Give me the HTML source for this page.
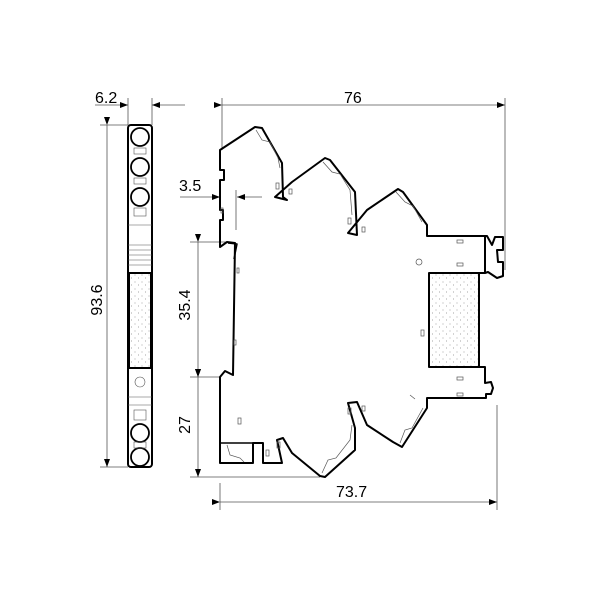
<!DOCTYPE html>
<html><head><style>body{margin:0;background:#fff}svg{display:block}text{font-family:"Liberation Sans",sans-serif;font-size:16px;fill:#000}</style></head>
<body>
<svg width="600" height="600" viewBox="0 0 600 600">
<defs>
<pattern id="dots" width="7" height="7" patternUnits="userSpaceOnUse"><circle cx="2" cy="2" r="0.5" fill="#888"/><circle cx="5.5" cy="5" r="0.5" fill="#888"/></pattern>
<marker id="a" markerWidth="8" markerHeight="6" refX="8" refY="3" orient="auto" markerUnits="userSpaceOnUse"><path d="M0,0L8,3L0,6z" fill="#000"/></marker>
</defs>
<g stroke="#555" stroke-width="0.8" fill="none">
<line x1="222" y1="105" x2="505" y2="105" marker-start="url(#a)" marker-end="url(#a)"/>
<line x1="222" y1="98" x2="222" y2="150"/><line x1="505" y1="98" x2="505" y2="270"/>
<line x1="95" y1="105" x2="128" y2="105" marker-end="url(#a)"/>
<line x1="185" y1="105" x2="152" y2="105" marker-end="url(#a)"/>
<line x1="128" y1="98" x2="128" y2="125"/><line x1="152" y1="98" x2="152" y2="125"/>
<line x1="107" y1="125" x2="107" y2="467" marker-start="url(#a)" marker-end="url(#a)"/>
<line x1="100" y1="125" x2="128" y2="125"/><line x1="100" y1="467" x2="128" y2="467"/>
<line x1="180" y1="197" x2="220" y2="197" marker-end="url(#a)"/>
<line x1="262" y1="197" x2="237" y2="197" marker-end="url(#a)"/>
<line x1="236" y1="190" x2="236" y2="230"/>
<line x1="198" y1="242" x2="198" y2="377" marker-start="url(#a)" marker-end="url(#a)"/>
<line x1="198" y1="377" x2="198" y2="477" marker-start="url(#a)" marker-end="url(#a)"/>
<line x1="190" y1="242" x2="227" y2="242"/><line x1="190" y1="377" x2="220" y2="377"/><line x1="190" y1="477" x2="320" y2="477"/>
<line x1="220" y1="502" x2="497" y2="502" marker-start="url(#a)" marker-end="url(#a)"/>
<line x1="220" y1="483" x2="220" y2="510"/><line x1="497" y1="405" x2="497" y2="510"/>
</g>
<text x="95" y="103">6.2</text>
<text x="344" y="103">76</text>
<text x="179" y="191">3.5</text>
<text x="336" y="497">73.7</text>
<text transform="translate(102,300) rotate(-90)" text-anchor="middle">93.6</text>
<text transform="translate(190,305) rotate(-90)" text-anchor="middle">35.4</text>
<text transform="translate(190,425) rotate(-90)" text-anchor="middle">27</text>

<g stroke="#000" fill="none">
<rect x="128" y="125" width="24" height="342" rx="3" stroke-width="2"/>
<g stroke-width="1.8"><circle cx="140" cy="137" r="9"/><circle cx="140" cy="167" r="9"/><circle cx="140" cy="197" r="9"/><circle cx="140" cy="433" r="9"/><circle cx="140" cy="457" r="9"/></g>
<g stroke-width="0.6" stroke="#555">
<rect x="134" y="148" width="12" height="6"/><rect x="134" y="178" width="12" height="6"/><rect x="134" y="208" width="12" height="8"/>
<line x1="128" y1="225" x2="152" y2="225"/><line x1="128" y1="245" x2="152" y2="245"/><line x1="128" y1="250" x2="152" y2="250"/><line x1="128" y1="255" x2="152" y2="255"/><line x1="128" y1="260" x2="152" y2="260"/><line x1="128" y1="265" x2="152" y2="265"/>
<circle cx="140" cy="382" r="5"/><line x1="128" y1="397" x2="152" y2="397"/><line x1="128" y1="405" x2="152" y2="405"/>
<rect x="134" y="410" width="12" height="10"/><rect x="134" y="442" width="12" height="6"/>
</g>
<rect x="129" y="273" width="22" height="95" fill="url(#dots)" stroke-width="2"/>
</g>

<g stroke="#000" stroke-width="2" fill="none" stroke-linejoin="round">
<path d="M220,150 L255,127 L262,128 L282,163 L283,197 L287,200 L275,197 L292,182 L325,158 L330,160 L355,192 L357,235 L348,233 L367,210 L398,189 L403,192 L427,225 L427,236 L487,236 L492,245 L495,237 L503,237 L503,250 L497,250 L498,262 L503,262 L503,276 L497,278 L488,272 L485,273 L479,273 L479,367 L485,367 L485,383 L491,382 L493,388 L491,394 L486,394 L486,398 L427,398 L427,408 L402,447 L393,442 L367,425 L357,402 L348,403 L355,428 L355,450 L325,477 L320,476 L292,453 L283,438 L277,440 L282,463 L263,463 L263,443 L253,443 L253,463 L220,463 L220,377 L225,371 L233,375 L235,243 L227,242 L220,247 L220,220 L223,220 L223,210 L220,210 L220,180 L224,180 L224,170 L220,170 Z"/>
<line x1="485" y1="236" x2="485" y2="273"/>
<rect x="429" y="273" width="50" height="94" fill="url(#dots)"/>
<path d="M220,443 L253,443" stroke-width="1.5"/>
<path d="M228,243 L237,244 L234,259" stroke-width="1.5"/>
</g>
<g stroke="#555" stroke-width="0.7" fill="none">
<path d="M256,130 L262,140 L270,142 L278,158 L280,168"/>
<path d="M323,162 L332,172 L340,174 L350,190 L352,215"/>
<path d="M396,192 L405,202 L413,206 L422,222"/>
<path d="M400,443 L405,430 L412,428 L423,408"/>
<path d="M322,473 L328,460 L336,458 L350,440 L352,425"/>
<path d="M227,445 L230,455 L240,458 L244,462"/>
<circle cx="419" cy="262" r="3"/>
<rect x="457" y="240" width="6" height="3"/><rect x="457" y="263" width="6" height="3"/>
<rect x="457" y="377" width="6" height="3"/><rect x="457" y="393" width="6" height="3"/>
<rect x="421" y="330" width="3" height="6"/><rect x="237" y="268" width="2" height="5"/><rect x="234" y="340" width="2" height="5"/>
<rect x="221" y="208" width="2" height="5"/><rect x="238" y="418" width="3" height="6"/>
<rect x="276" y="183" width="3" height="6"/><rect x="289" y="189" width="3" height="5"/>
<rect x="348" y="218" width="3" height="6"/><rect x="362" y="227" width="3" height="5"/>
<rect x="348" y="408" width="3" height="6"/><rect x="362" y="406" width="3" height="5"/>
<rect x="277" y="442" width="3" height="6"/><rect x="266" y="450" width="3" height="6"/>
<path d="M410,395 L415,399"/>
</g>
</svg>
</body></html>
